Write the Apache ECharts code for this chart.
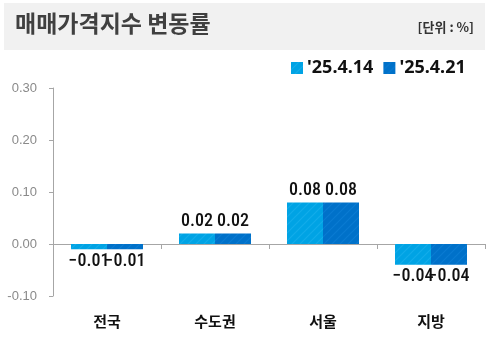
<!DOCTYPE html>
<html>
<head>
<meta charset="utf-8">
<script src="https://cdn.jsdelivr.net/npm/echarts@6/dist/echarts.min.js"></script>
<style>
  html, body { margin: 0; padding: 0; background: #fff; }
  #chart { width: 487px; height: 338px; }
</style>
</head>
<body>
<div id="chart"></div>
<script>
// Housing sale price index weekly change (%)
const categories = ['전국', '수도권', '서울', '지방'];
const seriesNames = ["'25.4.14", "'25.4.21"];
const week1 = [-0.01, 0.02, 0.08, -0.04];
const week2 = [-0.01, 0.02, 0.08, -0.04];
const yTicks = { min: -0.1, max: 0.3, interval: 0.1 };

// Diagonal-striped fill for the bars
function stripes(base, line) {
  const c = document.createElement('canvas');
  c.width = 8; c.height = 8;
  const g = c.getContext('2d');
  g.fillStyle = base;
  g.fillRect(0, 0, 8, 8);
  g.strokeStyle = line;
  g.lineWidth = 1.2;
  g.beginPath();
  g.moveTo(-1, 9); g.lineTo(9, -1);
  g.moveTo(-5, 5); g.lineTo(5, -5);
  g.moveTo(3, 13); g.lineTo(13, 3);
  g.stroke();
  return { image: c, repeat: 'repeat' };
}

const fillA = stripes('#00a3e4', '#12acea');
const fillB = stripes('#0071c9', '#0a7bd2');

const fmt = p => {
  const v = p.value;
  return (v < 0 ? '\u2212' : '') + Math.abs(v).toFixed(2);
};

const labelStyle = {
  show: true,
  fontFamily: '"Roboto Condensed", "Liberation Sans Narrow", sans-serif',
  fontSize: 18,
  fontWeight: 500,
  color: '#111',
  distance: 3,
  formatter: fmt
};

function barSeries(name, data, fill) {
  return {
    name: name,
    type: 'bar',
    xAxisIndex: 0,
    barWidth: 36,
    barGap: '0%',
    itemStyle: { color: fill },
    label: Object.assign({}, labelStyle, { position: 'top' }),
    data: data.map(v => ({
      value: v,
      label: { position: v < 0 ? 'bottom' : 'top' }
    }))
  };
}

const chart = echarts.init(document.getElementById('chart'), null, { renderer: 'canvas' });
chart.setOption({
  animation: false,
  backgroundColor: '#ffffff',
  graphic: [
    {
      type: 'rect',
      shape: { x: 4, y: 3, width: 481, height: 47 },
      style: { fill: '#f1f1f1' },
      silent: true
    },
    {
      type: 'text',
      left: 15, top: 12,
      style: {
        text: '매매가격지수 변동률',
        font: 'bold 23px "Noto Sans CJK KR", sans-serif',
        fill: '#404040'
      }
    },
    {
      type: 'text',
      right: 13, top: 21,
      style: {
        text: '[단위 : %]',
        font: 'bold 13px "Noto Sans CJK KR", sans-serif',
        fill: '#333333'
      }
    }
  ],
  legend: {
    left: 286, top: 54,
    itemWidth: 12, itemHeight: 12,
    itemGap: 10,
    icon: 'rect',
    textStyle: {
      fontFamily: '"Noto Sans", "DejaVu Sans", sans-serif',
      fontWeight: 'bold',
      fontSize: 18,
      color: '#111',
      padding: [0, 0, 0, -1]
    },
    data: seriesNames
  },
  grid: { left: 53, right: 2, top: 88, bottom: 42, outerBoundsMode: 'none', containLabel: false },
  xAxis: [
    {
      // zero line with boundary ticks
      type: 'category',
      data: categories,
      axisLine: { show: true, onZero: true, lineStyle: { color: '#a6a6a6', width: 1 } },
      axisTick: { show: true, alignWithLabel: false, length: 5, lineStyle: { color: '#a6a6a6' } },
      axisLabel: { show: false }
    },
    {
      // category names along the bottom
      type: 'category',
      data: categories,
      position: 'bottom',
      axisLine: { show: false, onZero: false },
      axisTick: { show: false },
      axisLabel: {
        margin: 18,
        fontFamily: '"Noto Sans CJK KR", sans-serif',
        fontWeight: 'bold',
        fontSize: 15,
        color: '#111'
      }
    }
  ],
  yAxis: {
    type: 'value',
    min: yTicks.min, max: yTicks.max, interval: yTicks.interval,
    axisLine: { show: true, lineStyle: { color: '#a6a6a6', width: 1 } },
    axisTick: { show: true, length: 4, lineStyle: { color: '#a6a6a6' } },
    splitLine: { show: false },
    axisLabel: {
      margin: 16,
      fontFamily: '"Liberation Sans", Arial, sans-serif',
      fontSize: 13,
      color: '#8a8a8a',
      formatter: v => v.toFixed(2)
    }
  },
  series: [
    barSeries(seriesNames[0], week1, fillA),
    barSeries(seriesNames[1], week2, fillB)
  ]
});
</script>
</body>
</html>
